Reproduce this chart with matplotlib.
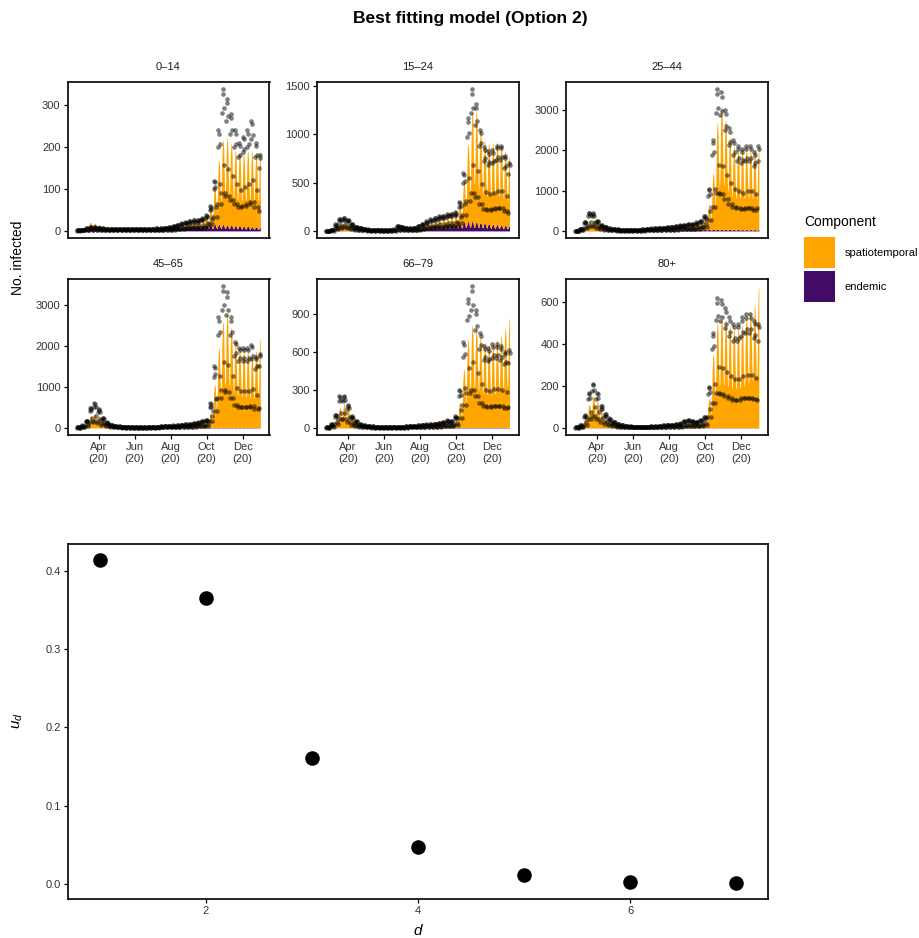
import numpy as np
import matplotlib
matplotlib.use("Agg")
import matplotlib.pyplot as plt
import matplotlib.dates as mdates
from matplotlib.patches import Rectangle

plt.rcParams['font.family'] = ['Liberation Sans', 'DejaVu Sans']
plt.rcParams['mathtext.fontset'] = 'custom'
plt.rcParams['mathtext.it'] = 'Liberation Sans:italic'
plt.rcParams['mathtext.rm'] = 'Liberation Sans'

# daily series from Mon 24 Feb 2020 to 31 Dec 2020, values stored per week
days = np.arange(np.datetime64('2020-02-24'), np.datetime64('2021-01-01'))

age_groups = ['0\u201314', '15\u201324', '25\u201344', '45\u201365', '66\u201379', '80+']

obs_wday = [0.4, 1.25, 1.5, 1.45, 1.3, 0.7, 0.4]
fit_wday = [0.55, 1.1, 1.35, 1.4, 1.25, 0.8, 0.55]

# observed weekly means
obs_0_14 = [1, 2, 4, 6, 6, 5, 4, 3, 3, 3, 3, 3, 3, 3, 3, 3, 3, 3, 3, 4, 4, 5, 6,
            8, 10, 12, 14, 16, 17, 18, 20, 25, 40, 80, 160, 225, 210, 185, 160,
            140, 150, 160, 175, 140, 120]
obs_15_24 = [2, 8, 45, 85, 90, 75, 50, 30, 20, 14, 10, 8, 7, 6, 6, 7, 10, 35, 30,
             20, 18, 20, 35, 50, 65, 80, 90, 100, 105, 115, 120, 130, 200, 400,
             780, 980, 880, 700, 580, 550, 560, 590, 590, 520, 470]
obs_25_44 = [5, 30, 150, 300, 290, 170, 100, 70, 45, 35, 25, 20, 18, 18, 20, 22,
             25, 35, 40, 45, 50, 55, 60, 70, 80, 90, 100, 110, 120, 140, 170, 250,
             700, 1500, 2350, 2300, 2000, 1700, 1500, 1400, 1350, 1400, 1400,
             1300, 1400]
obs_45_65 = [10, 40, 120, 330, 400, 300, 160, 90, 55, 35, 25, 20, 15, 12, 10, 10,
             12, 15, 18, 20, 25, 30, 35, 40, 45, 55, 60, 65, 75, 90, 110, 130,
             400, 1000, 1800, 2300, 2200, 1800, 1400, 1300, 1300, 1300, 1350,
             1150, 1200]
obs_66_79 = [3, 20, 70, 170, 170, 120, 60, 35, 20, 14, 10, 8, 7, 6, 5, 5, 5, 6, 7,
             8, 10, 12, 14, 16, 18, 20, 22, 26, 30, 40, 35, 60, 200, 450, 680, 745,
             620, 500, 430, 420, 440, 440, 430, 400, 410]
obs_80 = [2, 8, 40, 110, 140, 110, 70, 45, 30, 20, 13, 9, 6, 5, 4, 4, 4, 4, 5, 5,
          6, 8, 10, 10, 12, 14, 22, 26, 22, 20, 25, 35, 130, 300, 410, 405, 380,
          350, 330, 330, 350, 360, 360, 340, 330]

# fitted spatiotemporal component, weekly means
st_0_14 = [0, 1, 6, 14, 12, 10, 6, 2, 2, 2, 2, 2, 2, 2, 2, 2, 2, 2, 2, 3, 3, 3, 4,
           5, 5, 6, 7, 8, 9, 10, 12, 16, 30, 65, 110, 145, 150, 140, 130, 125,
           125, 130, 130, 125, 130]
st_15_24 = [1, 5, 30, 60, 65, 55, 38, 24, 15, 10, 8, 6, 5, 5, 5, 5, 7, 15, 18, 14,
            12, 12, 12, 18, 25, 35, 45, 50, 55, 60, 65, 80, 150, 300, 580, 820,
            830, 700, 620, 600, 610, 620, 600, 560, 520]
st_25_44 = [2, 15, 70, 180, 200, 150, 90, 55, 35, 25, 20, 16, 14, 14, 15, 17, 20,
            26, 30, 35, 38, 42, 45, 50, 55, 62, 70, 78, 85, 100, 120, 170, 450,
            1000, 1900, 2200, 1950, 1650, 1500, 1450, 1450, 1450, 1450, 1450, 1450]
st_45_65 = [2, 15, 60, 200, 250, 200, 120, 60, 35, 25, 18, 14, 11, 9, 8, 8, 9, 11,
            13, 15, 18, 21, 25, 28, 32, 38, 42, 46, 52, 62, 75, 95, 250, 750, 1400,
            1850, 2000, 1750, 1500, 1400, 1350, 1350, 1300, 1350, 1550]
st_66_79 = [1, 8, 40, 115, 135, 105, 60, 28, 14, 9, 7, 6, 5, 4, 4, 4, 4, 4, 5, 6,
            7, 8, 10, 11, 12, 14, 15, 18, 21, 26, 28, 45, 140, 330, 500, 580, 560,
            520, 480, 470, 480, 500, 520, 560, 620]
st_80 = [1, 5, 30, 80, 110, 90, 55, 30, 20, 13, 9, 6, 4, 3, 3, 3, 3, 3, 3, 4, 4, 5,
         6, 7, 8, 10, 14, 17, 16, 15, 18, 28, 100, 250, 360, 380, 370, 350, 340,
         340, 350, 380, 400, 420, 480]

# fitted endemic component, weekly means
en_0_14 = [1, 1, 1, 1, 1, 1, 1, 1, 1, 1, 1, 1, 1, 1, 1, 1, 2, 2, 2, 2, 2, 3, 4, 5,
           6, 7, 8, 8, 9, 9, 10, 10, 10, 11, 11, 11, 10, 10, 9, 9, 8, 8, 7, 7, 6]
en_15_24 = [2, 2, 2, 2, 2, 2, 2, 2, 2, 2, 2, 2, 2, 2, 2, 2, 3, 4, 5, 6, 8, 10, 15,
            22, 28, 32, 36, 40, 42, 45, 48, 52, 55, 65, 70, 70, 66, 62, 58, 54, 50,
            47, 44, 41, 38]
en_25_44 = [3, 3, 3, 3, 3, 3, 3, 3, 3, 3, 3, 3, 3, 3, 3, 3, 3, 3, 3, 5, 7, 9, 12,
            15, 18, 20, 22, 24, 26, 28, 30, 32, 32, 32, 32, 32, 30, 30, 28, 28, 26,
            26, 25, 24, 24]
en_45_65 = [2, 2, 2, 2, 2, 2, 2, 2, 2, 2, 2, 2, 2, 2, 2, 2, 2, 2, 2, 2, 2, 4, 4, 4,
            4, 4, 6, 6, 6, 6, 6, 8, 8, 8, 8, 8, 8, 8, 8, 8, 8, 8, 8, 8, 8]
en_66_79 = [1, 1, 1, 1, 1, 1, 1, 1, 1, 1, 1, 1, 1, 1, 1, 1, 1, 1, 1, 1, 1, 2, 2, 2,
            2, 2, 3, 3, 3, 3, 4, 4, 4, 4, 4, 4, 4, 4, 4, 4, 4, 4, 4, 4, 4]
en_80 = [1] * 45

obs_all = [obs_0_14, obs_15_24, obs_25_44, obs_45_65, obs_66_79, obs_80]
st_all = [st_0_14, st_15_24, st_25_44, st_45_65, st_66_79, st_80]
en_all = [en_0_14, en_15_24, en_25_44, en_45_65, en_66_79, en_80]

yticks_all = [[0, 100, 200, 300], [0, 500, 1000, 1500], [0, 1000, 2000, 3000],
              [0, 1000, 2000, 3000], [0, 300, 600, 900], [0, 200, 400, 600]]

date_ticks = ['2020-04-01', '2020-06-01', '2020-08-01', '2020-10-01', '2020-12-01']

# overdispersion weights for the distance decay
d_vals = [1, 2, 3, 4, 5, 6, 7]
u_d = [0.414, 0.366, 0.161, 0.047, 0.011, 0.002, 0.001]

ORANGE = '#FFA500'
PURPLE = '#440A68'
TXT = '#333333'

W, H = 920, 938


def daily(weekly, profile):
    n = len(days)
    return np.repeat(weekly, 7)[:n] * np.tile(profile, len(weekly))[:n]


def box(ax):
    for s in ax.spines.values():
        s.set_linewidth(1.2)
        s.set_color('black')
    ax.tick_params(length=3, width=0.9, colors='black', labelcolor=TXT,
                   labelsize=8, pad=2)


fig = plt.figure(figsize=(W / 100, H / 100), dpi=100)

col_left = [67.5, 316.7, 566]
row_top = [82, 279]
pw, ph = 202, 156

x0 = mdates.date2num(days[0])
x1 = mdates.date2num(days[-1])
xpad = 0.05 * (x1 - x0)

for i, name in enumerate(age_groups):
    r, c = divmod(i, 3)
    left, top = col_left[c], row_top[r]
    ax = fig.add_axes([left / W, 1 - (top + ph) / H, pw / W, ph / H])

    obs = np.round(daily(obs_all[i], obs_wday))
    end = daily(en_all[i], fit_wday)
    st = daily(st_all[i], fit_wday)

    ax.fill_between(days, 0, end, color=PURPLE, lw=0)
    ax.fill_between(days, end, end + st, color=ORANGE, lw=0)
    ax.scatter(days, obs, s=11, c='black', alpha=0.5, lw=0, zorder=3)

    ymax = max(obs.max(), (end + st).max())
    ax.set_ylim(-0.05 * ymax, 1.05 * ymax)
    ax.set_xlim(x0 - xpad, x1 + xpad)
    ax.set_yticks(yticks_all[i])
    box(ax)

    if r == 0:
        ax.set_xticks([])
    else:
        ax.set_xticks([mdates.date2num(np.datetime64(t)) for t in date_ticks])
        ax.xaxis.set_major_formatter(mdates.DateFormatter('%b\n(%y)'))

    fig.text((left + pw / 2) / W, 1 - (top - 15) / H, name, ha='center',
             va='center', fontsize=8, color='#1a1a1a')

fig.text(470 / W, 1 - 18 / H, 'Best fitting model (Option 2)', ha='center',
         va='center', fontsize=12.5, fontweight='bold')
fig.text(18 / W, 1 - 258 / H, 'No. infected', rotation=90, ha='center',
         va='center', fontsize=10)

# legend
fig.text(804 / W, 1 - 222 / H, 'Component', ha='left', va='center', fontsize=10)
for j, (lab, col) in enumerate([('spatiotemporal', ORANGE), ('endemic', PURPLE)]):
    ytop = 237 + j * 34
    fig.add_artist(Rectangle((804 / W, 1 - (ytop + 31) / H), 31 / W, 31 / H,
                             transform=fig.transFigure, color=col, lw=0))
    fig.text(845 / W, 1 - (ytop + 16) / H, lab, ha='left', va='center',
             fontsize=8)

# u_d panel
bx = fig.add_axes([67.7 / W, 1 - 899 / H, (768 - 67.7) / W, (899 - 544) / H])
bx.scatter(d_vals, u_d, s=110, c='black', lw=0, zorder=3)
dr = max(d_vals) - min(d_vals)
ur = max(u_d) - min(u_d)
bx.set_xlim(min(d_vals) - 0.05 * dr, max(d_vals) + 0.05 * dr)
bx.set_ylim(min(u_d) - 0.05 * ur, max(u_d) + 0.05 * ur)
bx.set_xticks([2, 4, 6])
bx.set_yticks([0.0, 0.1, 0.2, 0.3, 0.4])
bx.set_yticklabels(['0.0', '0.1', '0.2', '0.3', '0.4'])
box(bx)
fig.text(18 / W, 1 - 721 / H, '$u_d$', rotation=90, ha='center', va='center',
         fontsize=11)
fig.text(418 / W, 1 - 930 / H, '$d$', ha='center', va='center', fontsize=11)

fig.savefig('out.png', dpi=100)
